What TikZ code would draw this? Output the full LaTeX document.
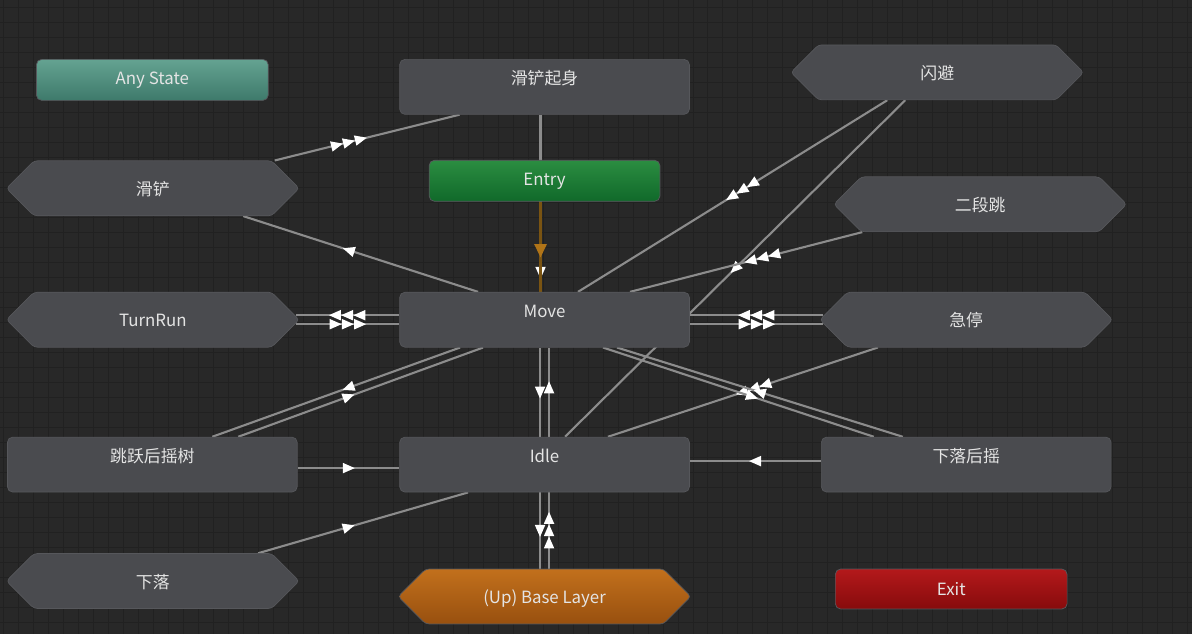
\documentclass[tikz,border=0pt]{standalone}
\usepackage{fontspec}
\newfontfamily\cjk{Noto Sans CJK SC}
\usetikzlibrary{shapes.symbols,decorations.markings,calc,positioning}

\definecolor{bgc}{HTML}{282828}
\definecolor{gridc}{HTML}{212121}
\definecolor{stategray}{HTML}{4A4B4F}
\definecolor{stateedge}{HTML}{56575B}
\definecolor{txt}{HTML}{E4E4E4}
\definecolor{linkc}{HTML}{8C8C8C}
\definecolor{entryline}{HTML}{7A5412}
\definecolor{entrytip}{HTML}{B07418}

\pgfdeclarelayer{grid}
\pgfdeclarelayer{edges}
\pgfsetlayers{grid,edges,main}

\begin{document}
\begin{tikzpicture}[x=0.02cm, y=-0.02cm, semithick,
    state/.style={rectangle, rounded corners=3pt, fill=stategray, draw=stateedge, line width=0.4pt,
                  minimum width=5.8cm, minimum height=1.1cm, inner sep=0pt, text=txt,
                  font=\cjk\fontsize{9.6}{11}\selectfont},
    lifted/.style={text height=7pt, text depth=9.4pt},
    hexa/.style={state, shape=signal, signal to=east and west, signal pointer angle=90,
                 rounded corners=2pt, minimum width=5.86cm, text height=9pt, text depth=1pt},
    small/.style={state, minimum width=4.64cm, minimum height=0.82cm},
    link/.style={draw=linkc, line width=1.2pt},
    tip/.style={postaction={decorate, decoration={markings, mark=at position #1 with
                {\fill[white] (3.6pt,0) -- (-3.2pt,3pt) -- (-3.2pt,-3pt) -- cycle;}}}},
    tips/.style={postaction={decorate, decoration={markings, mark=at position #1 with
                {\foreach \d in {-7pt,0pt,7pt}
                   \fill[white,xshift=\d] (3.6pt,0) -- (-3.2pt,3pt) -- (-3.2pt,-3pt) -- cycle;}}}}
  ]

  % background and grid
  \begin{pgfonlayer}{grid}
    \fill[bgc] (0,0) rectangle (1192,634);
    \foreach \x in {3,18,...,1192} \draw[gridc, line width=0.5pt] (\x,0) -- (\x,634);
    \foreach \y in {7,22,...,634} \draw[gridc, line width=0.5pt] (0,\y) -- (1192,\y);
  \end{pgfonlayer}
  \useasboundingbox (0,0) rectangle (1192,634);

  % states
  \node[small, top color={rgb,255:red,100;green,163;blue,145}, bottom color={rgb,255:red,62;green,122;blue,107}]
        (any)      at (152,79.5)    {Any State};
  \node[state, lifted] (slideup)  at (544.5,86.5)  {滑铲起身};
  \node[hexa]          (dodge)    at (937.5,72)    {闪避};
  \node[small, minimum width=4.62cm, top color={rgb,255:red,43;green,141;blue,65}, bottom color={rgb,255:red,16;green,105;blue,42}]
        (entry)    at (544.5,180.5) {Entry};
  \node[hexa]          (slide)    at (152.5,188)   {滑铲};
  \node[hexa]          (dbljump)  at (980.5,204)   {二段跳};
  \node[hexa]          (turnrun)  at (152.5,319.5) {TurnRun};
  \node[state, lifted] (move)     at (544.5,319.5) {Move};
  \node[hexa]          (brake)    at (966.5,319.5) {急停};
  \node[state, lifted] (jumptree) at (152,464.5)   {跳跃后摇树};
  \node[state, lifted] (idle)     at (544.5,464.5) {Idle};
  \node[state, lifted] (fallrec)  at (966.5,464.5) {下落后摇};
  \node[hexa]          (fall)     at (152.5,581)   {下落};
  \node[hexa, top color={rgb,255:red,194;green,112;blue,28}, bottom color={rgb,255:red,152;green,80;blue,15}]
        (base)     at (544.5,596.5) {(Up) Base Layer};
  \node[small, minimum height=0.8cm, top color={rgb,255:red,179;green,25;blue,27}, bottom color={rgb,255:red,135;green,11;blue,12}]
        (exit)     at (951.5,589)   {Exit};

  % transitions
  \begin{pgfonlayer}{edges}
    \draw[link, tips=.4]  ($(slide.north)+(122,0)$)   -- ($(slideup.south)+(-85,0)$);
    \draw[link, tip=.89]  ($(slideup.south)+(-4,0)$)  -- ($(move.north)+(-4,0)$);
    \draw[draw=entryline, line width=1.2pt, postaction={decorate, decoration={markings, mark=at position .54 with
          {\fill[entrytip] (4pt,0) -- (-3.5pt,3.6pt) -- (-3.5pt,-3.6pt) -- cycle;}}}]
          ($(entry.south)+(-4,0)$) -- ($(move.north)+(-4,0)$);
    \draw[link, tip=.55]  ($(move.north)+(-66.5,0)$)  -- ($(slide.south)+(90.5,0)$);

    \draw[link, tips=.5]  ($(move.west)+(0,-4.5)$)    -- ($(turnrun.east)+(-4,-4.5)$);
    \draw[link, tips=.5]  ($(turnrun.east)+(-4,4.5)$) -- ($(move.west)+(0,4.5)$);
    \draw[link, tips=.5]  ($(brake.west)+(4,-4.5)$)   -- ($(move.east)+(0,-4.5)$);
    \draw[link, tips=.5]  ($(move.east)+(0,4.5)$)     -- ($(brake.west)+(4,4.5)$);

    \draw[link, tips=.47] ($(dodge.south)+(-50,0)$)   -- ($(move.north)+(33.5,0)$);
    \draw[link, tip=.5]   ($(dodge.south)+(-32,0)$)   -- ($(idle.north)+(20.5,0)$);
    \draw[link, tips=.43] ($(dbljump.south)+(-118,0)$) -- ($(move.north)+(85.5,0)$);

    \draw[link, tip=.45]  ($(move.south)+(-84.5,0)$)  -- ($(jumptree.north)+(60,0)$);
    \draw[link, tip=.45]  ($(jumptree.north)+(86,0)$) -- ($(move.south)+(-61.5,0)$);
    \draw[link, tip=.5]   ($(jumptree.east)+(0,3.5)$) -- ($(idle.west)+(0,3.5)$);
    \draw[link, tip=.5]   ($(fallrec.west)+(0,-3.5)$) -- ($(idle.east)+(0,-3.5)$);

    \draw[link, tip=.5]   ($(move.south)+(-4.5,0)$)   -- ($(idle.north)+(-4.5,0)$);
    \draw[link, tip=.55]  ($(idle.north)+(4.5,0)$)    -- ($(move.south)+(4.5,0)$);
    \draw[link, tip=.5]   ($(idle.south)+(-4.5,0)$)   -- ($(base.north)+(-4.5,0)$);
    \draw[link, tips=.5]  ($(base.north)+(4.5,0)$)    -- ($(idle.south)+(4.5,0)$);

    \draw[link, tip=.43]  ($(fall.north)+(105.5,0)$)  -- ($(idle.south)+(-76.5,0)$);
    \draw[link, tips=.46] ($(brake.south)+(-88.5,0)$) -- ($(idle.north)+(63.5,0)$);
    \draw[link, tip=.55]  ($(move.south)+(58.5,0)$)   -- ($(fallrec.north)+(-92.5,0)$);
    \draw[link, tip=.5]   ($(fallrec.north)+(-63.5,0)$) -- ($(move.south)+(72.5,0)$);
  \end{pgfonlayer}

\end{tikzpicture}
\end{document}
